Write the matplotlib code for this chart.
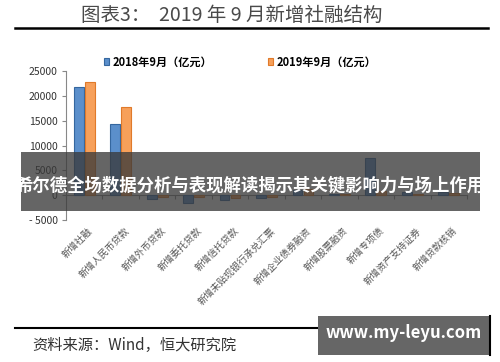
# plot.py
# 2019年9月新增社融结构 bar chart

import matplotlib
matplotlib.use('agg')
import matplotlib.pyplot as plt
from matplotlib.patches import Rectangle
from matplotlib.lines import Line2D
import numpy as np

plt.rcParams['font.family'] = ['Noto Sans CJK SC', 'DejaVu Sans']

### Data ###
categories = ['新增社融', '新增人民币贷款', '新增外币贷款', '新增委托贷款', '新增信托贷款',
              '新增未贴现银行承兑汇票', '新增企业债券融资', '新增股票融资', '新增专项债',
              '新增资产支持证券', '新增贷款核销']
sep_2018 = [21700, 14300, -800, -1500, -1000, -500, 1000, 200, 7400, 700, 700]
sep_2019 = [22700, 17700, -400, -300, -600, -300, 1300, 200, 900, 300, 500]
series_names = ['2018年9月（亿元）', '2019年9月（亿元）']
yticks = [-5000, 0, 5000, 10000, 15000, 20000, 25000]
ytick_labels = ['- 5000', '0', '5000', '10000', '15000', '20000', '25000']

title = '图表3：  2019 年 9 月新增社融结构'
source = '资料来源：Wind，恒大研究院'
banner = '希尔德全场数据分析与表现解读揭示其关键影响力与场上作用'
watermark = 'www.my-leyu.com'

BLUE = '#5b8fcb'
BLUE_EDGE = '#35679f'
ORANGE = '#f7a05a'
ORANGE_EDGE = '#e07a2a'

W, H = 500, 362
fig = plt.figure(figsize=(W / 100, H / 100), dpi=100)

def fx(px):
    return px / W

def fy(py):
    return 1 - py / H

# Title and rules
fig.text(fx(232), fy(15), title, ha='center', va='center', fontsize=14, color='#4a4a4a')
fig.add_artist(Line2D([fx(15), fx(488)], [fy(28), fy(28)], color='black', lw=1.8))
fig.add_artist(Line2D([fx(15), fx(488)], [fy(328), fy(328)], color='black', lw=1.5))
fig.text(fx(32), fy(345), source, ha='left', va='center', fontsize=11, color='#333333',
         style='italic')

# Axes
ax = fig.add_axes([fx(66), fy(220), fx(467) - fx(66), fy(71) - fy(220)])
x = np.arange(len(categories))
bw = 0.27
b1 = ax.bar(x - 0.15, sep_2018, bw, color=BLUE, edgecolor=BLUE_EDGE, linewidth=0.8,
            label=series_names[0], zorder=3)
b2 = ax.bar(x + 0.15, sep_2019, bw, color=ORANGE, edgecolor=ORANGE_EDGE, linewidth=0.8,
            label=series_names[1], zorder=3)

ax.set_xlim(-0.5, len(categories) - 0.5)
ax.set_ylim(-5000, 25000)
ax.set_yticks(yticks)
ax.set_yticklabels(ytick_labels, fontsize=7.5, color='#333333')
ax.tick_params(axis='y', direction='out', length=3, color='#888888', pad=3)

for s in ['top', 'right']:
    ax.spines[s].set_visible(False)
ax.spines['left'].set_color('#888888')
ax.spines['left'].set_linewidth(0.8)
ax.spines['bottom'].set_position(('data', 0))
ax.spines['bottom'].set_color('#888888')
ax.spines['bottom'].set_linewidth(0.8)
ax.set_xticks(np.arange(len(categories) + 1) - 0.5)
ax.set_xticklabels([])
ax.tick_params(axis='x', direction='out', length=3, color='#888888')

for i, name in enumerate(categories):
    ax.text(i + 0.1, -0.04, name, transform=ax.get_xaxis_transform(), rotation=45,
            ha='right', va='top', rotation_mode='anchor', fontsize=6.8, color='#555555')

leg = fig.legend(handles=[b1, b2], loc='center', bbox_to_anchor=(fx(240), fy(62)),
                 ncol=2, frameon=False, handlelength=0.5, handleheight=0.5,
                 columnspacing=5, handletextpad=0.3, prop={'weight': 'bold', 'size': 8})

# Overlay banner
fig.add_artist(Rectangle((fx(21), fy(211)), fx(480) - fx(21), fy(152) - fy(211),
                         transform=fig.transFigure, facecolor='#3a3a3a', alpha=0.78,
                         edgecolor='none', zorder=10))
fig.text(fx(250), fy(186), banner, ha='center', va='center', fontsize=12.5,
         color='white', weight='bold', zorder=11)

# Watermark box
fig.add_artist(Rectangle((fx(318), fy(355)), fx(490) - fx(318), fy(316) - fy(355),
                         transform=fig.transFigure, facecolor='#666666',
                         edgecolor='none', zorder=10))
fig.add_artist(Line2D([fx(490), fx(490)], [fy(316), fy(355)], color='black', lw=1.5, zorder=11))
fig.text(fx(404), fy(333), watermark, ha='center', va='center', fontsize=12,
         color='white', weight='bold', zorder=11)

fig.savefig('out.png', dpi=100)
